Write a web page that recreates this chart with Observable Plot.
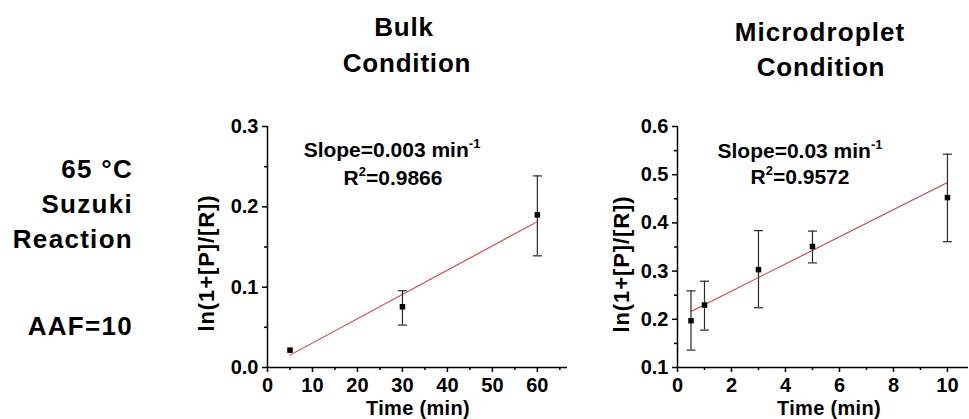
<!DOCTYPE html>
<html>
<head>
<meta charset="utf-8">
<script src="https://cdn.jsdelivr.net/npm/d3@7"></script>
<script src="https://cdn.jsdelivr.net/npm/@observablehq/plot@0.6"></script>
<style>
  html, body { margin: 0; padding: 0; background: #fff; }
  #wrap { position: relative; width: 969px; height: 419px; overflow: hidden; background: #fff; }
  #wrap > .panel { position: absolute; }
  #overlay { position: absolute; left: 0; top: 0; pointer-events: none; }
  #overlay text { font-family: "Liberation Sans", Arial, sans-serif; font-weight: bold; fill: #000; }
</style>
</head>
<body>
<div id="wrap">
  <div class="panel" id="bulk" style="left:180px; top:110px;"></div>
  <div class="panel" id="micro" style="left:590px; top:110px;"></div>
  <svg id="overlay" width="969" height="419" xmlns="http://www.w3.org/2000/svg">
    <text x="404" y="36" text-anchor="middle" font-size="26" letter-spacing="0.8">Bulk</text>
    <text x="407" y="72" text-anchor="middle" font-size="26" letter-spacing="0.8">Condition</text>
    <text x="820" y="41" text-anchor="middle" font-size="26" letter-spacing="1.1">Microdroplet</text>
    <text x="821" y="76" text-anchor="middle" font-size="26" letter-spacing="0.8">Condition</text>

    <text x="133" y="178" text-anchor="end" font-size="26" letter-spacing="1.3">65 °C</text>
    <text x="133" y="213" text-anchor="end" font-size="26" letter-spacing="1.3">Suzuki</text>
    <text x="133" y="248" text-anchor="end" font-size="26" letter-spacing="1.3">Reaction</text>
    <text x="133" y="335" text-anchor="end" font-size="26" letter-spacing="1.3">AAF=10</text>

    <text x="392" y="157" text-anchor="middle" font-size="21">Slope=0.003 min<tspan font-size="13" dy="-9">-1</tspan></text>
    <text x="393" y="185" text-anchor="middle" font-size="21">R<tspan font-size="13" dy="-9">2</tspan><tspan dy="9">=0.9866</tspan></text>
    <text x="800" y="158" text-anchor="middle" font-size="21">Slope=0.03 min<tspan font-size="13" dy="-9">-1</tspan></text>
    <text x="800" y="184" text-anchor="middle" font-size="21">R<tspan font-size="13" dy="-9">2</tspan><tspan dy="9">=0.9572</tspan></text>

    <text x="418" y="415" text-anchor="middle" font-size="20" letter-spacing="0.3">Time (min)</text>
    <text x="829" y="415" text-anchor="middle" font-size="20" letter-spacing="0.3">Time (min)</text>
    <text transform="translate(214,263) rotate(-90)" text-anchor="middle" font-size="22" letter-spacing="0.9">ln(1+[P]/[R])</text>
    <text transform="translate(629,264) rotate(-90)" text-anchor="middle" font-size="22" letter-spacing="0.9">ln(1+[P]/[R])</text>
  </svg>
</div>
<script>
// ---- Bulk condition data ----
const bulkTime    = [5, 30, 60];
const bulkValue   = [0.0216, 0.0756, 0.190];
const bulkErrLow  = [0.0216, 0.0528, 0.139];
const bulkErrHigh = [0.0216, 0.0956, 0.2385];
const bulkFitTime  = [5, 60];
const bulkFitValue = [0.0154, 0.1816];

// ---- Microdroplet condition data ----
const microTime    = [0.5, 1, 3, 5, 10];
const microValue   = [0.197, 0.2295, 0.303, 0.351, 0.4525];
const microErrLow  = [0.136, 0.1776, 0.224, 0.317, 0.361];
const microErrHigh = [0.259, 0.279, 0.384, 0.383, 0.5425];
const microFitTime  = [0.5, 10];
const microFitValue = [0.2163, 0.4837];

// ---- Axis ticks ----
const bulkXTicks  = [0, 10, 20, 30, 40, 50, 60];
const bulkXMinor  = [5, 15, 25, 35, 45, 55, 65];
const bulkYTicks  = [0.0, 0.1, 0.2, 0.3];
const bulkYMinor  = [0.05, 0.15, 0.25];
const microXTicks = [0, 2, 4, 6, 8, 10];
const microXMinor = [1, 3, 5, 7, 9];
const microYTicks = [0.1, 0.2, 0.3, 0.4, 0.5, 0.6];
const microYMinor = [0.15, 0.25, 0.35, 0.45, 0.55];

const capSymbol = {
  draw(context, size) {
    const w = Math.sqrt(size / Math.PI);
    context.moveTo(-w, 0);
    context.lineTo(w, 0);
  }
};

function panel(cfg) {
  const pts = cfg.time.map((t, i) => ({t, v: cfg.value[i], lo: cfg.lo[i], hi: cfg.hi[i]}));
  const bars = pts.filter(d => d.hi > d.lo);
  const fit = cfg.fitTime.map((t, i) => ({t, v: cfg.fitValue[i]}));
  return Plot.plot({
    width: cfg.width,
    height: 309,
    marginLeft: 87,
    marginRight: cfg.marginRight,
    marginTop: 16,
    marginBottom: 52,
    style: {fontFamily: "'Liberation Sans', Arial, sans-serif", fontSize: "20px", fontWeight: "bold", color: "#000", background: "transparent", overflow: "visible"},
    x: {domain: cfg.xDomain, label: null, axis: null},
    y: {domain: cfg.yDomain, label: null, axis: null},
    marks: [
      Plot.axisX({ticks: cfg.xTicks, tickSize: 5, tickPadding: 5, strokeWidth: 1.5, label: null, tickFormat: d => String(d)}),
      Plot.axisX({ticks: cfg.xMinor, tickSize: 3, strokeWidth: 1.5, label: null, tickFormat: () => ""}),
      Plot.axisY({ticks: cfg.yTicks, tickSize: 5, tickPadding: 4, strokeWidth: 1.5, label: null, tickFormat: d3.format(".1f")}),
      Plot.axisY({ticks: cfg.yMinor, tickSize: 3, strokeWidth: 1.5, label: null, tickFormat: () => ""}),
      Plot.ruleY([cfg.yDomain[0]], {stroke: "#000", strokeWidth: 1.5}),
      Plot.ruleX([cfg.xDomain[0]], {stroke: "#000", strokeWidth: 1.5}),
      Plot.line(fit, {x: "t", y: "v", stroke: "#d03a3a", strokeWidth: 1.1}),
      Plot.ruleX(bars, {x: "t", y1: "lo", y2: "hi", stroke: "#2a2a2a", strokeWidth: 1.2}),
      Plot.dot(bars, {x: "t", y: "hi", symbol: capSymbol, r: 4.5, stroke: "#2a2a2a", strokeWidth: 1.2}),
      Plot.dot(bars, {x: "t", y: "lo", symbol: capSymbol, r: 4.5, stroke: "#2a2a2a", strokeWidth: 1.2}),
      Plot.dot(pts, {x: "t", y: "v", symbol: "square", r: 3.1, fill: "#000", stroke: null})
    ]
  });
}

document.getElementById("bulk").appendChild(panel({
  width: 395, marginRight: 8,
  xDomain: [0, 66.7], yDomain: [0, 0.3],
  xTicks: bulkXTicks, xMinor: bulkXMinor, yTicks: bulkYTicks, yMinor: bulkYMinor,
  time: bulkTime, value: bulkValue, lo: bulkErrLow, hi: bulkErrHigh,
  fitTime: bulkFitTime, fitValue: bulkFitValue
}));

document.getElementById("micro").appendChild(panel({
  width: 379, marginRight: 1,
  xDomain: [0, 10.78], yDomain: [0.1, 0.6],
  xTicks: microXTicks, xMinor: microXMinor, yTicks: microYTicks, yMinor: microYMinor,
  time: microTime, value: microValue, lo: microErrLow, hi: microErrHigh,
  fitTime: microFitTime, fitValue: microFitValue
}));
</script>
</body>
</html>
